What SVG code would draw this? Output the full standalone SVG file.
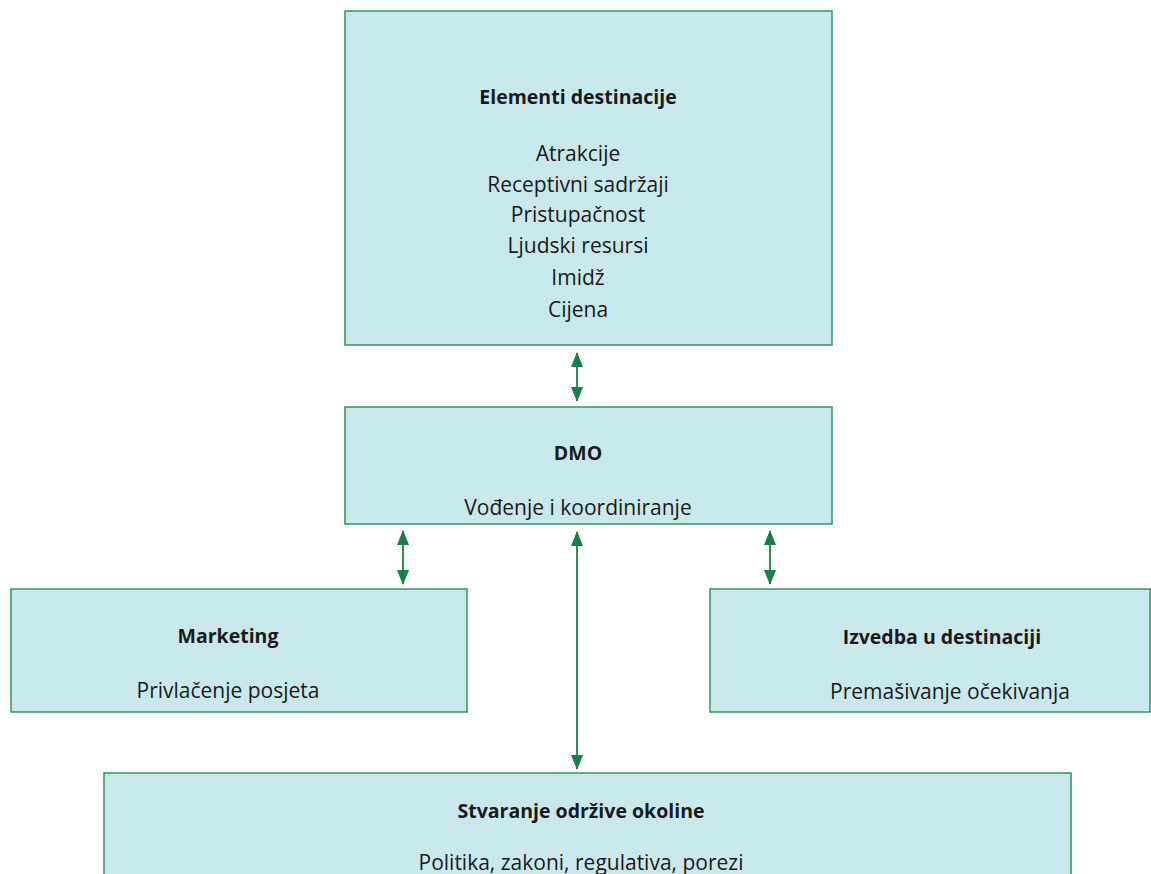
<svg xmlns="http://www.w3.org/2000/svg" width="1151" height="874" viewBox="0 0 1151 874">
<style>
.box{fill:#C9E8EA;stroke:#2E9466;stroke-width:1.5}
.t{font-family:"Open Sans",Lato,"Liberation Sans",sans-serif;font-size:21px;fill:#1a1a1a;text-anchor:middle}
.b{font-weight:bold;font-size:19.5px}
.c{stroke:#17804A;stroke-width:1.8;fill:none;marker-start:url(#ah);marker-end:url(#ah)}
</style>
<defs>
<marker id="ah" viewBox="0 0 15 12" refX="14" refY="6" markerWidth="15" markerHeight="12" orient="auto-start-reverse" markerUnits="userSpaceOnUse">
<path d="M0,0 L15,6 L0,12 z" fill="#17804A"/>
</marker>
</defs>
<rect width="1151" height="874" fill="#fff"/>
<g id="n-elementi">
<rect class="box" x="345" y="11" width="487" height="334"/>
<text class="t b" x="578" y="104">Elementi destinacije</text>
<text class="t" x="578" y="161">Atrakcije</text>
<text class="t" x="578" y="192">Receptivni sadržaji</text>
<text class="t" x="578" y="222">Pristupačnost</text>
<text class="t" x="578" y="253">Ljudski resursi</text>
<text class="t" x="578" y="285">Imidž</text>
<text class="t" x="578" y="317">Cijena</text>
</g>
<g id="n-dmo">
<rect class="box" x="345" y="407" width="487" height="117"/>
<text class="t b" x="578" y="460">DMO</text>
<text class="t" x="578" y="515">Vođenje i koordiniranje</text>
</g>
<g id="n-marketing">
<rect class="box" x="11" y="589" width="456" height="123"/>
<text class="t b" x="228" y="643">Marketing</text>
<text class="t" x="228" y="698">Privlačenje posjeta</text>
</g>
<g id="n-izvedba">
<rect class="box" x="710" y="589" width="440" height="123"/>
<text class="t b" x="942" y="644">Izvedba u destinaciji</text>
<text class="t" x="950" y="699">Premašivanje očekivanja</text>
</g>
<g id="n-okolina">
<rect class="box" x="104" y="773" width="967" height="110"/>
<text class="t b" x="581" y="818">Stvaranje održive okoline</text>
<text class="t" x="581" y="870">Politika, zakoni, regulativa, porezi</text>
</g>
<g id="connectors">
<line class="c" x1="577" y1="353" x2="577" y2="401"/>
<line class="c" x1="403" y1="531" x2="403" y2="584"/>
<line class="c" x1="770" y1="531" x2="770" y2="584"/>
<line class="c" x1="577" y1="532" x2="577" y2="769"/>
</g>
</svg>
